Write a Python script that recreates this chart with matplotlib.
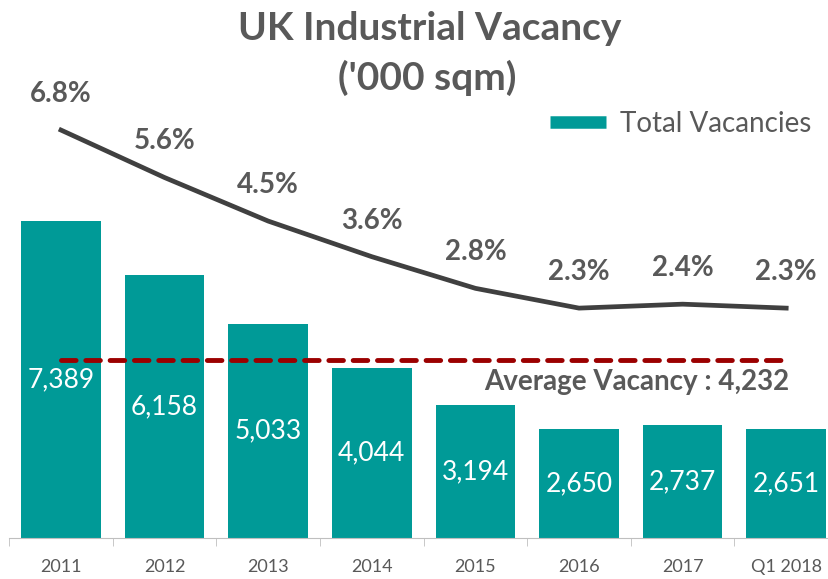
import numpy as np
import matplotlib.pyplot as plt
from matplotlib.lines import Line2D

plt.rcParams['font.family'] = ['Lato', 'DejaVu Sans']

years = ['2011', '2012', '2013', '2014', '2015', '2016', '2017', 'Q1 2018']
vacancies = [7389, 6158, 5033, 4044, 3194, 2650, 2737, 2651]
vacancy_rate = [6.8, 5.6, 4.5, 3.6, 2.8, 2.3, 2.4, 2.3]
average = 4232

teal = '#009A97'
grey = '#595959'

fig = plt.figure(figsize=(8.29, 5.79), dpi=100)
W, H = 829, 579
left, bottom, top = 9.2 / W, 1 - 538 / H, 1 - 100 / H
ax = fig.add_axes([left, bottom, 828.8 / W, top - bottom])

ymin, ymax = 166, 10146
x = np.arange(len(years))
ax.bar(x, vacancies, width=0.77, color=teal, zorder=2)
for xi, v in zip(x, vacancies):
    ax.text(xi, (v + ymin) / 2, f'{v:,}', ha='center', va='center',
            color='white', fontsize=19, zorder=3)

ax.plot([x[0], x[-1]], [average, average], color='#9B0000', lw=3.5,
        dashes=(3, 2), dash_capstyle='round', zorder=4)
ax.text(7.03, average - 520, f'Average Vacancy : {average:,}', ha='right',
        va='center', fontsize=20, fontweight='bold', color=grey, zorder=4)

ax.set_xlim(-0.5, 7.5)
ax.set_ylim(ymin, ymax)
ax.set_yticks([])
for s in ['top', 'right', 'left']:
    ax.spines[s].set_visible(False)
ax.spines['bottom'].set_color('#BFBFBF')
ax.set_xticks(x)
ax.set_xticklabels(years, fontsize=13, color=grey)
ax.set_xticks(np.arange(-0.5, 8, 1), minor=True)
ax.tick_params(axis='x', which='major', length=0, pad=15)
ax.tick_params(axis='x', which='minor', length=6, color='#BFBFBF')

ax2 = ax.twinx()
ax2.plot(x, vacancy_rate, color='#404040', lw=3.4, zorder=5)
for xi, r in zip(x, vacancy_rate):
    ax2.annotate(f'{r}%', (xi, r), xytext=(0, 26), textcoords='offset points',
                 ha='center', va='center', fontsize=20, fontweight='bold',
                 color=grey)
ax2.set_ylim(-3.51, 7.56)
ax2.axis('off')

fig.text(430 / W, 1 - 28 / H, 'UK Industrial Vacancy', ha='center', va='center',
         fontsize=28, fontweight='bold', color=grey)
fig.text(427 / W, 1 - 78 / H, "('000 sqm)", ha='center', va='center',
         fontsize=28, fontweight='bold', color=grey)

handle = Line2D([], [], color=teal, lw=9, solid_capstyle='butt')
fig.legend([handle], ['Total Vacancies'], loc='center right',
           bbox_to_anchor=(836 / W, 1 - 124 / H), frameon=False, fontsize=20,
           labelcolor=grey, handlelength=2.0, handletextpad=0.5)

plt.savefig('out.png', dpi=100)
